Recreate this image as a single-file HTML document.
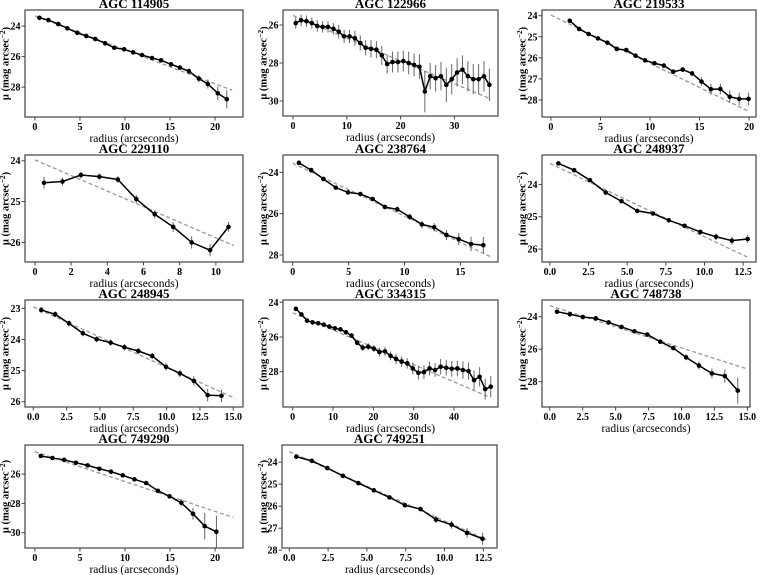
<!DOCTYPE html>
<html><head><meta charset="utf-8">
<style>
html,body{margin:0;padding:0;background:#fff;}
svg{display:block;font-family:"Liberation Serif",serif;}
</style></head>
<body>
<svg id="chart" width="760" height="575" viewBox="0 0 760 575" xmlns="http://www.w3.org/2000/svg"></svg>
<script>
// ---- data (radius in arcsec, mu in mag arcsec^-2) ----
const titles = ["AGC 114905","AGC 122966","AGC 219533","AGC 229110","AGC 238764","AGC 248937","AGC 248945","AGC 334315","AGC 748738","AGC 749290","AGC 749251"];

const r1 = [0.5,1.5,2.6,3.6,4.7,5.7,6.7,7.8,8.8,9.9,10.9,11.9,13.0,14.0,15.1,16.1,17.1,18.2,19.2,20.3,21.3];
const mu1 = [23.46,23.61,23.87,24.15,24.44,24.65,24.85,25.13,25.42,25.52,25.72,25.9,26.09,26.24,26.5,26.72,26.96,27.44,27.79,28.4,28.79];
const err1 = [0.05,0.05,0.05,0.06,0.06,0.07,0.07,0.08,0.08,0.09,0.1,0.1,0.11,0.12,0.14,0.16,0.2,0.25,0.3,0.45,0.6];
const fit1 = [[0,23.33],[21.9,28.2]];

const r2 = [0.5,1.5,2.5,3.5,4.5,5.5,6.5,7.5,8.5,9.5,10.5,11.5,12.5,13.5,14.5,15.5,16.5,17.5,18.5,19.5,20.5,21.5,22.5,23.5,24.5,25.5,26.5,27.5,28.5,29.5,30.5,31.5,32.5,33.5,34.5,35.5,36.5];
const mu2 = [25.9,25.75,25.8,25.9,26.05,26.1,26.1,26.2,26.35,26.6,26.6,26.7,26.95,27.2,27.25,27.3,27.6,28.05,27.95,27.95,27.9,28.0,28.1,28.2,29.5,28.7,28.8,28.7,29.15,28.85,28.5,28.35,28.7,28.85,28.85,28.7,29.15];
const err2 = [0.3,0.3,0.3,0.3,0.3,0.3,0.3,0.3,0.35,0.35,0.35,0.4,0.4,0.4,0.45,0.45,0.5,0.5,0.55,0.55,0.55,0.6,0.6,0.65,1.1,0.7,0.7,0.75,0.9,0.8,0.75,0.75,0.8,0.8,0.8,0.8,0.85];
const fit2 = [[0,25.5],[36.8,29.9]];

const r3 = [1.9,2.85,3.8,4.75,5.7,6.65,7.6,8.55,9.5,10.45,11.4,12.35,13.3,14.25,15.2,16.15,17.1,18.05,19.0,19.95];
const mu3 = [24.24,24.63,24.87,25.08,25.28,25.58,25.63,25.9,26.12,26.26,26.37,26.66,26.56,26.74,27.13,27.49,27.48,27.85,27.95,27.95];
const err3 = [0.05,0.05,0.05,0.05,0.06,0.06,0.07,0.08,0.08,0.09,0.1,0.1,0.1,0.12,0.2,0.25,0.25,0.3,0.3,0.3];
const fit3 = [[0,23.97],[20,28.55]];

const r4 = [0.5,1.52,2.54,3.56,4.58,5.6,6.62,7.64,8.66,9.68,10.7];
const mu4 = [24.54,24.51,24.35,24.39,24.46,24.94,25.31,25.62,26.0,26.19,25.62];
const err4 = [0.15,0.1,0.08,0.08,0.08,0.1,0.1,0.12,0.15,0.15,0.12];
const fit4 = [[0,23.98],[11,26.08]];

const r5 = [0.55,1.65,2.75,3.85,4.95,6.05,7.15,8.25,9.35,10.45,11.55,12.65,13.75,14.85,15.95,17.05];
const mu5 = [23.54,23.89,24.32,24.74,24.97,25.05,25.29,25.68,25.79,26.15,26.52,26.66,27.03,27.23,27.47,27.53];
const err5 = [0.05,0.06,0.07,0.08,0.08,0.09,0.1,0.12,0.14,0.15,0.18,0.2,0.25,0.3,0.35,0.4];
const fit5 = [[0,23.56],[17.8,28.11]];

const r6 = [0.55,1.57,2.59,3.61,4.63,5.65,6.67,7.69,8.71,9.73,10.75,11.77,12.79];
const mu6 = [23.35,23.56,23.87,24.25,24.52,24.82,24.9,25.11,25.28,25.47,25.62,25.74,25.69];
const err6 = [0.05,0.04,0.04,0.05,0.05,0.06,0.06,0.07,0.07,0.08,0.1,0.12,0.12];
const fit6 = [[0,23.35],[12.82,26.26]];

const r7 = [0.6,1.64,2.68,3.72,4.76,5.8,6.84,7.88,8.92,9.96,11.0,12.04,13.08,14.12];
const mu7 = [23.05,23.19,23.48,23.8,23.99,24.1,24.25,24.37,24.53,24.88,25.09,25.33,25.79,25.81];
const err7 = [0.1,0.1,0.1,0.1,0.1,0.1,0.1,0.1,0.1,0.12,0.12,0.15,0.2,0.2];
const fit7 = [[0,22.95],[15.13,25.89]];

const r8 = [0.8,2.18,3.56,4.94,6.32,7.7,9.08,10.46,11.84,13.22,14.6,15.98,17.36,18.74,20.12,21.5,22.88,24.26,25.64,27.02,28.4,29.78,31.16,32.54,33.92,35.3,36.68,38.06,39.44,40.82,42.2,43.58,44.96,46.34,47.72,49.1];
const mu8 = [24.38,24.70,25.06,25.16,25.21,25.29,25.4,25.5,25.56,25.73,25.92,26.33,26.61,26.56,26.67,26.86,26.83,27.09,27.27,27.42,27.52,27.81,28.06,28.02,27.81,27.9,27.71,27.77,27.83,27.81,27.9,27.96,28.48,28.29,29.0,28.86];
const err8 = [0.08,0.08,0.08,0.08,0.08,0.08,0.08,0.08,0.08,0.08,0.12,0.15,0.2,0.2,0.2,0.25,0.25,0.25,0.3,0.3,0.3,0.35,0.4,0.4,0.4,0.4,0.45,0.45,0.45,0.45,0.5,0.5,0.55,0.55,0.6,0.6];
const fit8 = [[0,24.6],[49,29.48]];

const r9 = [0.55,1.53,2.51,3.49,4.47,5.45,6.43,7.41,8.39,9.37,10.35,11.33,12.31,13.29,14.27];
const mu9 = [23.69,23.85,24.02,24.1,24.35,24.63,24.9,25.1,25.54,25.93,26.5,27.01,27.49,27.65,28.55];
const err9 = [0.05,0.05,0.06,0.06,0.07,0.08,0.09,0.1,0.1,0.12,0.18,0.25,0.3,0.4,0.8];
const fit9 = [[0,23.32],[15,27.22]];

const r10 = [0.65,1.95,3.25,4.55,5.85,7.15,8.45,9.75,11.05,12.35,13.65,14.95,16.25,17.55,18.85,20.15];
const mu10 = [24.77,24.91,25.03,25.23,25.41,25.64,25.84,26.09,26.36,26.61,27.14,27.52,27.96,28.71,29.55,29.93];
const err10 = [0.05,0.05,0.05,0.06,0.06,0.07,0.08,0.08,0.09,0.1,0.12,0.15,0.25,0.4,0.9,1.1];
const fit10 = [[0,24.48],[22.0,28.95]];

const r11 = [0.45,1.45,2.45,3.45,4.45,5.45,6.45,7.45,8.45,9.45,10.45,11.45,12.45];
const mu11 = [23.75,23.94,24.27,24.62,24.95,25.28,25.6,25.96,26.13,26.61,26.84,27.21,27.48];
const err11 = [0.05,0.05,0.05,0.06,0.06,0.07,0.08,0.1,0.1,0.15,0.18,0.22,0.28];
const fit11 = [[0,23.52],[12.7,27.52]];

const xTicks = [[0,5,10,15,20],[0,10,20,30],[0,5,10,15,20],[0,2,4,6,8,10],[0,5,10,15],[0,2.5,5,7.5,10,12.5],[0,2.5,5,7.5,10,12.5,15],[0,10,20,30,40],[0,2.5,5,7.5,10,12.5,15],[0,5,10,15,20],[0,2.5,5,7.5,10,12.5]];
const yTicks = [[24,26,28],[26,28,30],[24,25,26,27,28],[24,25,26],[24,26,28],[24,25,26],[23,24,25,26],[24,26,28],[24,26,28],[26,28,30],[24,25,26,27,28]];
const xDomains = [[-1.1,23.1],[-1.86,38.1],[-0.9,20.7],[-0.55,11.5],[-0.87,18.36],[-0.51,13.33],[-0.62,15.73],[-2.4,50.9],[-0.59,15.2],[-1.1,23.1],[-0.47,13.38]];
const yDomains = [[22.95,29.95],[25.21,30.79],[23.73,28.81],[23.86,26.48],[23.16,28.34],[23.09,26.4],[22.73,26.17],[23.87,30.03],[22.97,29.56],[24.02,31.04],[23.22,27.9]];

const radii = [r1,r2,r3,r4,r5,r6,r7,r8,r9,r10,r11];
const mus = [mu1,mu2,mu3,mu4,mu5,mu6,mu7,mu8,mu9,mu10,mu11];
const errs = [err1,err2,err3,err4,err5,err6,err7,err8,err9,err10,err11];
const fits = [fit1,fit2,fit3,fit4,fit5,fit6,fit7,fit8,fit9,fit10,fit11];

// ---- layout (pixel boxes: left, top, right, bottom) ----
const boxes = [[25,10,243,117],[283,10,498,116],[542,10,756,117],[25,155,243,262],[283,155,498,262],[542,155,756,262],[25,300,243,407],[283,300,498,407],[542,300,750,407],[25,445,243,548],[282,445,497,548]];
const ylabX = [6,264,523];
const xDec = [0,0,0,0,0,1,1,0,1,0,1];

const NS = "http://www.w3.org/2000/svg";
const svg = document.getElementById('chart');
function mk(tag, attrs, parent){
  const e = document.createElementNS(NS, tag);
  for (const k in attrs) e.setAttribute(k, attrs[k]);
  (parent||svg).appendChild(e);
  return e;
}

for (let p = 0; p < 11; p++){
  const [L,T,R,B] = boxes[p];
  const xd = xDomains[p], yd = yDomains[p];
  const sx = v => L + (v - xd[0]) / (xd[1] - xd[0]) * (R - L);
  const sy = v => T + (v - yd[0]) / (yd[1] - yd[0]) * (B - T);
  const g = mk('g', {});
  
  

  const clipId = 'clip' + p;
  const cp = mk('clipPath', {id: clipId}, g);
  mk('rect', {x: L, y: T, width: R-L, height: B-T}, cp);

  const t = mk('text', {x: (L+R)/2, y: T-2, 'text-anchor':'middle', 'font-size':13, 'font-weight':'bold', fill:'#000'}, g);
  t.textContent = titles[p];
  
  

  const f = fits[p];
  const fl = mk('line', {x1: sx(f[0][0]), y1: sy(f[0][1]), x2: sx(f[1][0]), y2: sy(f[1][1]), stroke:'#999', 'stroke-width':1.3, 'stroke-dasharray':'4,2.5', 'clip-path':'url(#'+clipId+')'}, g);
  
  

  const rr = radii[p], mm = mus[p], ee = errs[p];
  for (let i = 0; i < rr.length; i++){
    const eb = mk('line', {x1: sx(rr[i]), x2: sx(rr[i]), y1: sy(mm[i]-ee[i]), y2: sy(mm[i]+ee[i]), stroke:'#666', 'stroke-width':1, 'clip-path':'url(#'+clipId+')'}, g);
    
    
  }
  let d = '';
  for (let i = 0; i < rr.length; i++) d += (i ? 'L' : 'M') + sx(rr[i]).toFixed(2) + ',' + sy(mm[i]).toFixed(2);
  const pl = mk('path', {d: d, fill:'none', stroke:'#000', 'stroke-width':1.5}, g);
  
  
  for (let i = 0; i < rr.length; i++){
    const c = mk('circle', {cx: sx(rr[i]), cy: sy(mm[i]), r: 2.3, fill:'#000'}, g);
    
    
  }

  const fr = mk('rect', {x: L, y: T, width: R-L, height: B-T, fill:'none', stroke:'#444', 'stroke-width':1.2}, g);
  
  

  for (const v of xTicks[p]){
    const x = sx(v);
    mk('line', {x1:x, x2:x, y1:B, y2:B+3.5, stroke:'#444', 'stroke-width':1}, g);
    const tl = mk('text', {x:x, y:B+13, 'text-anchor':'middle', 'font-size':10, 'font-weight':'bold', fill:'#000'}, g);
    tl.textContent = v.toFixed(xDec[p]);
    
    
  }
  for (const v of yTicks[p]){
    const y = sy(v);
    mk('line', {x1:L-3.5, x2:L, y1:y, y2:y, stroke:'#444', 'stroke-width':1}, g);
    const tl = mk('text', {x:L-4.5, y:y+3.5, 'text-anchor':'end', 'font-size':10, 'font-weight':'bold', fill:'#000'}, g);
    tl.textContent = String(v);
    
    
  }
  const xt = mk('text', {x:(L+R)/2, y:B+25, 'text-anchor':'middle', 'font-size':11.5, fill:'#000'}, g);
  xt.textContent = 'radius (arcseconds)';
  
  
  const yx = ylabX[p % 3], yc = (T+B)/2;
  const yt = mk('text', {x:yx, y:yc, 'text-anchor':'middle', 'font-size':10.5, 'font-weight':'bold', fill:'#000', 'dominant-baseline':'central', transform:'rotate(-90 '+yx+' '+yc+')'}, g);
  yt.innerHTML = 'μ (mag arcsec<tspan dy="-4" font-size="7.5">−2</tspan><tspan dy="4">)</tspan>';
  
  
}
</script>
</body></html>
